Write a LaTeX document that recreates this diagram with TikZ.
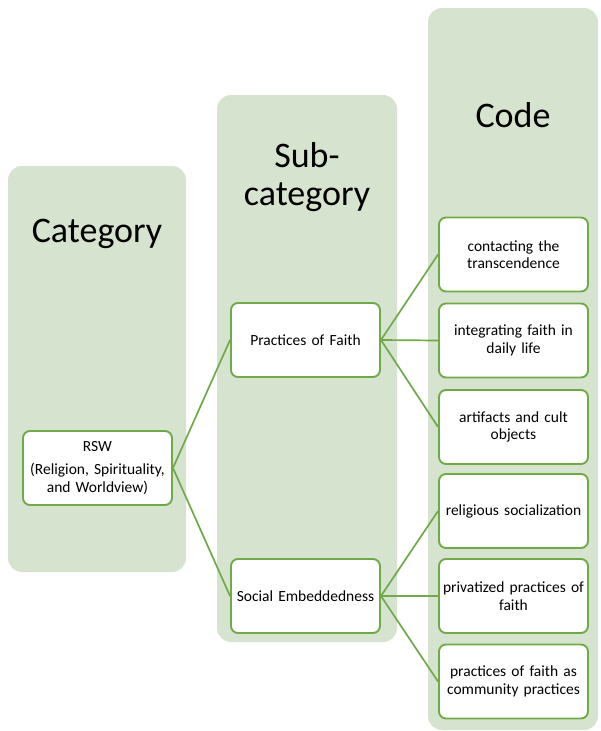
\documentclass[tikz,border=0pt]{standalone}
\usepackage{fontspec}
\setmainfont{Carlito}
\definecolor{colbg}{RGB}{214,228,207}
\definecolor{boxline}{RGB}{112,170,72}
\begin{document}
\begin{tikzpicture}[x=1pt,y=-1pt,
  column/.style={fill=colbg,draw=none,rounded corners=14pt},
  title/.style={anchor=base,font=\fontsize{36}{38}\selectfont,text=black,inner sep=0pt,align=center},
  codebox/.style={draw=boxline,line width=1.9pt,fill=white,rounded corners=7pt,
    minimum width=149pt,minimum height=74pt,text width=144pt,align=center,inner sep=1pt,
    font=\fontsize{15.5}{17.5}\selectfont},
  link/.style={draw=boxline,line width=1.7pt}
]
\useasboundingbox (0,0) rectangle (600,731);
\fill[white] (0,0) rectangle (600,731);
% columns
\path[column] (8,166) rectangle (186,572);
\path[column] (217,95) rectangle (397,642);
\path[column] (428,8) rectangle (598,730);
% titles
\node[title] (tcat) at (97,242) {Category};
\node[title] (tsub) at (307,205) {Sub-\\category};
\node[title] (tcode) at (513,127) {Code};
% boxes
\node[codebox] (rsw) at (97.5,468) {RSW\\[6pt](Religion, Spirituality,\\and Worldview)};
\node[codebox] (pf) at (305.5,340) {Practices of Faith};
\node[codebox] (se) at (305.5,596) {Social Embeddedness};
\node[codebox] (c1) at (513.5,254.5) {contacting the\\transcendence};
\node[codebox] (c2) at (513.5,340.5) {integrating faith in\\daily life};
\node[codebox] (c3) at (513.5,427) {artifacts and cult\\objects};
\node[codebox] (c4) at (513.5,511) {religious socialization};
\node[codebox] (c5) at (513.5,596) {privatized practices of\\faith};
\node[codebox] (c6) at (513.5,681.5) {practices of faith as\\community practices};
% connectors
\draw[link] (rsw.east) -- (pf.west);
\draw[link] (rsw.east) -- (se.west);
\draw[link] (pf.east) -- (c1.west);
\draw[link] (pf.east) -- (c2.west);
\draw[link] (pf.east) -- (c3.west);
\draw[link] (se.east) -- (c4.west);
\draw[link] (se.east) -- (c5.west);
\draw[link] (se.east) -- (c6.west);
\end{tikzpicture}
\end{document}
